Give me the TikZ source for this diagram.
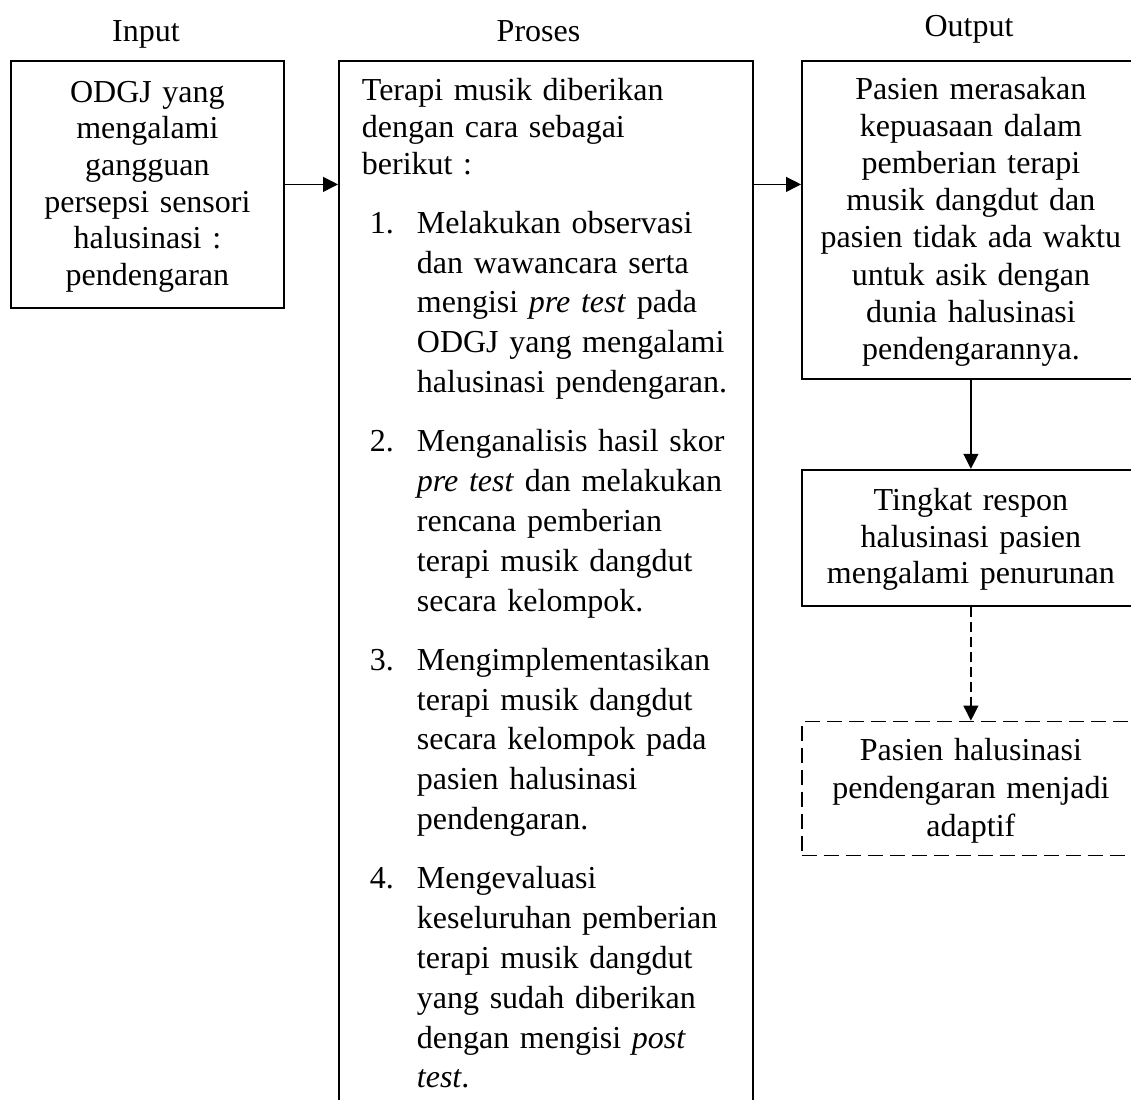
\documentclass[tikz,border=0pt]{standalone}
\usepackage{fontspec}
\setmainfont{Liberation Serif}
\usetikzlibrary{arrows.meta,positioning}
\newcommand{\langkah}[2]{\par\vspace{19.5pt}\hangindent=55pt\hangafter=1\noindent\makebox[55pt][l]{\hspace{8pt}#1}#2}
\begin{document}
\begin{tikzpicture}[x=1pt, y=-1pt, >={Triangle[length=15pt,width=15pt]},
    every node/.style={font=\fontsize{32}{36.6}\selectfont},
    kotak/.style={draw, line width=1.8pt, inner sep=0pt, minimum width=338pt, text width=310pt, align=center, execute at begin node={\noindent\strut}},
    panah/.style={->, line width=1.2pt},
    judul/.style={anchor=base, inner sep=0pt}]
  \useasboundingbox (0,0) rectangle (1131,1099);
  \clip (0,0) rectangle (1131,1099);
  \node[judul] (jin) at (146,41.7) {Input};
  \node[judul] (jproses) at (538.5,41.7) {Proses};
  \node[judul] (jout) at (969,36.7) {Output};
  \node[kotak, anchor=north west, minimum width=273pt, minimum height=247pt, text width=260pt] (input) at (10,60)
    {ODGJ yang\\mengalami\\gangguan\\persepsi sensori\\halusinasi :\\pendengaran};
  \node[kotak, anchor=north west, minimum width=414pt, text width=368pt, align=left, inner xsep=23pt, inner ysep=14.3pt] (proses) at (338,60)
    {Terapi musik diberikan\\dengan cara sebagai\\berikut :\par\fontsize{32}{39.8}\selectfont
     \langkah{1.}{Melakukan observasi\newline dan wawancara serta\newline mengisi \textit{pre test} pada\newline ODGJ yang mengalami\newline halusinasi pendengaran.}
     \langkah{2.}{Menganalisis hasil skor\newline \textit{pre test} dan melakukan\newline rencana pemberian\newline terapi musik dangdut\newline secara kelompok.}
     \langkah{3.}{Mengimplementasikan\newline terapi musik dangdut\newline secara kelompok pada\newline pasien halusinasi\newline pendengaran.}
     \langkah{4.}{Mengevaluasi\newline keseluruhan pemberian\newline terapi musik dangdut\newline yang sudah diberikan\newline dengan mengisi \textit{post}\newline \textit{test}.\strut}\par};
  \node[kotak, anchor=north west, minimum height=318pt, font=\fontsize{32}{37.1}\selectfont] (luaran) at (801,60)
    {Pasien merasakan\\kepuasaan dalam\\pemberian terapi\\musik dangdut dan\\pasien tidak ada waktu\\untuk asik dengan\\dunia halusinasi\\pendengarannya.};
  \node[kotak, minimum height=136pt, below=89pt of luaran] (respon)
    {Tingkat respon\\halusinasi pasien\\mengalami penurunan};
  \node[kotak, minimum height=134pt, below=114pt of respon, dash pattern=on 15pt off 7pt, font=\fontsize{32}{38}\selectfont] (adaptif)
    {Pasien halusinasi\\pendengaran menjadi\\adaptif};
  \draw[panah] (input.east) -- (input.east -| proses.west);
  \draw[panah] (input.east -| proses.east) -- (input.east -| luaran.west);
  \draw[panah] (luaran.south) -- (respon.north);
  \draw[panah, dash pattern=on 10pt off 5pt] (respon.south) -- (adaptif.north);
\end{tikzpicture}
\end{document}
